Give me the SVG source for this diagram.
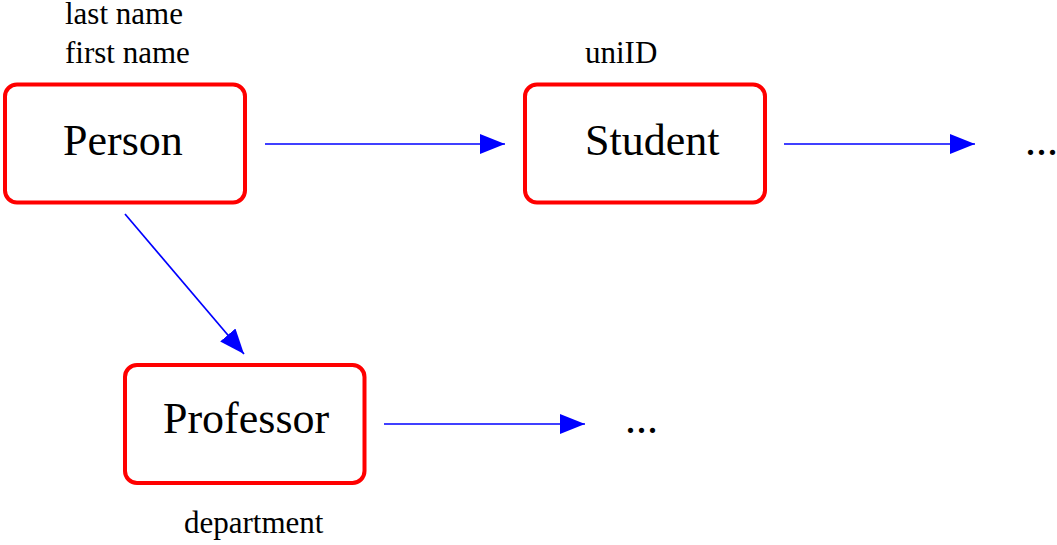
<svg xmlns="http://www.w3.org/2000/svg" width="1057" height="545" viewBox="0 0 1057 545">
<style>
.box{fill:none;stroke:#ff0000;stroke-width:4}
.big{font-family:"Liberation Serif","Times New Roman",serif;font-size:44px;fill:#000}
.small{font-family:"Liberation Serif","Times New Roman",serif;font-size:31px;fill:#000}
.conn{stroke:#0000ff;stroke-width:1.7;fill:none;marker-end:url(#ah)}
</style>
<defs>
<marker id="ah" markerUnits="userSpaceOnUse" markerWidth="26" markerHeight="20" refX="25" refY="10" orient="auto" viewBox="0 0 26 20">
<path d="M0,0 L25,10 L0,20 z" fill="#0000ff"/>
</marker>
</defs>
<rect width="1057" height="545" fill="#fff"/>
<g id="connectors">
<line class="conn" x1="265" y1="144" x2="505" y2="144"/>
<line class="conn" x1="784" y1="144" x2="975" y2="144"/>
<line class="conn" x1="384" y1="424" x2="585" y2="424"/>
<line class="conn" x1="125" y1="214" x2="244" y2="354"/>
</g>
<g id="person">
<rect class="box" x="5" y="84.5" width="240" height="118" rx="12"/>
<text class="big" x="63" y="155">Person</text>
<text class="small" x="65" y="24">last name</text>
<text class="small" x="65" y="63">first name</text>
</g>
<g id="student">
<rect class="box" x="525" y="84.5" width="240" height="118" rx="12"/>
<text class="big" x="585" y="155">Student</text>
<text class="small" x="585" y="63">uniID</text>
</g>
<g id="professor">
<rect class="box" x="125" y="365" width="239.5" height="118" rx="12"/>
<text class="big" x="163" y="433">Professor</text>
<text class="small" x="184" y="533">department</text>
</g>
<g id="more-student">
<text class="big" x="1025" y="155">...</text>
</g>
<g id="more-professor">
<text class="big" x="625" y="433">...</text>
</g>
</svg>
